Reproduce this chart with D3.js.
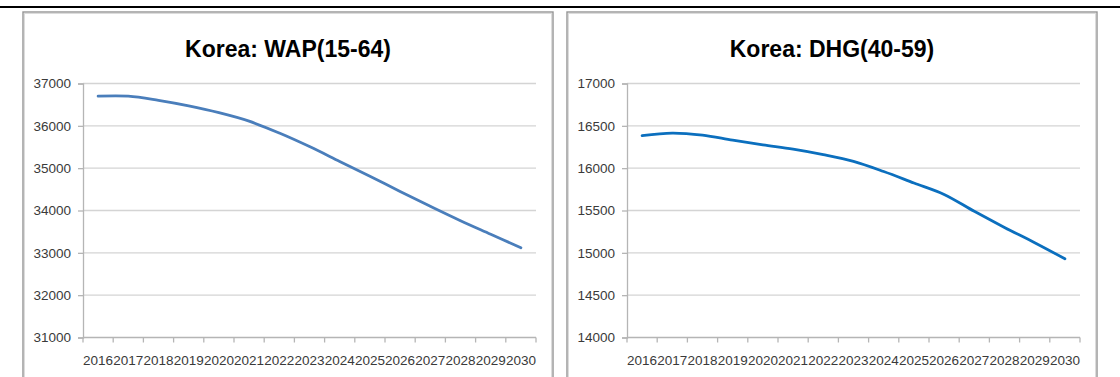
<!DOCTYPE html>
<html>
<head>
<meta charset="utf-8">
<script src="https://cdn.jsdelivr.net/npm/d3@7"></script>
<style>
  html, body { margin: 0; padding: 0; background: #fff; }
  svg { display: block; }
  .tick text { font-family: "Liberation Sans", Arial, sans-serif; }
</style>
</head>
<body>
<svg id="chart" width="1120" height="377"></svg>
<script>
// Years shared by both panels
const years = ["2016","2017","2018","2019","2020","2021","2022","2023","2024","2025","2026","2027","2028","2029","2030"];

// Working-age population (15-64), thousands
const wapValues = [36700, 36700, 36600, 36470, 36310, 36110, 35830, 35510, 35160, 34810, 34450, 34100, 33760, 33440, 33120];
const wapTicks = [31000, 32000, 33000, 34000, 35000, 36000, 37000];

// Demographic "heavy group" (40-59), thousands
const dhgValues = [16385, 16415, 16390, 16330, 16275, 16225, 16160, 16080, 15960, 15825, 15690, 15490, 15300, 15120, 14930];
const dhgTicks = [14000, 14500, 15000, 15500, 16000, 16500, 17000];

const titles = ["Korea: WAP(15-64)", "Korea: DHG(40-59)"];

const svg = d3.select("#chart");

// Rule across the top of the page
svg.append("line")
  .attr("x1", 0).attr("x2", 1120)
  .attr("y1", 7).attr("y2", 7)
  .attr("stroke", "#000").attr("stroke-width", 2);

function drawPanel(cfg) {
  const g = svg.append("g");

  // Panel frame: dark outer line with a light inner edge
  g.append("rect")
    .attr("x", cfg.box[0]).attr("y", cfg.box[1])
    .attr("width", cfg.box[2] - cfg.box[0]).attr("height", cfg.box[3] - cfg.box[1])
    .attr("fill", "#fff").attr("stroke", "#959595").attr("stroke-width", 1.4);
  g.append("rect")
    .attr("x", cfg.box[0] + 1.5).attr("y", cfg.box[1] + 1.5)
    .attr("width", cfg.box[2] - cfg.box[0] - 3).attr("height", cfg.box[3] - cfg.box[1] - 3)
    .attr("fill", "none").attr("stroke", "#dcdcdc").attr("stroke-width", 1);

  const x = d3.scaleBand().domain(years).range([cfg.plot[0], cfg.plot[1]]).paddingInner(0).paddingOuter(0);
  const y = d3.scaleLinear().domain(cfg.domain).range([cfg.plot[3], cfg.plot[2]]);

  // Horizontal gridlines
  g.append("g")
    .selectAll("line")
    .data(cfg.ticks.slice(1))
    .join("line")
    .attr("x1", cfg.plot[0]).attr("x2", cfg.plot[1])
    .attr("y1", d => y(d)).attr("y2", d => y(d))
    .attr("stroke", "#d4d4d4").attr("stroke-width", 1.3);

  // Y axis
  const yAxis = g.append("g")
    .attr("transform", `translate(${cfg.plot[0]},0)`)
    .call(d3.axisLeft(y).tickValues(cfg.ticks).tickFormat(d3.format("d")).tickSize(5).tickPadding(7));
  yAxis.select(".domain").attr("stroke", "#b5b5b5").attr("stroke-width", 1.3);
  yAxis.selectAll(".tick line").attr("stroke", "#b5b5b5").attr("stroke-width", 1.3);
  yAxis.selectAll(".tick text")
    .attr("fill", "#3a3a3a").style("font-size", "13.5px");

  // X axis with tick marks on band boundaries
  const xAxisG = g.append("g").attr("transform", `translate(0,${cfg.plot[3]})`);
  xAxisG.append("line")
    .attr("x1", cfg.plot[0]).attr("x2", cfg.plot[1])
    .attr("stroke", "#b5b5b5").attr("stroke-width", 1.3);
  const bounds = years.map(d => x(d)).concat([x(years[years.length - 1]) + x.bandwidth()]);
  xAxisG.selectAll("line.tk")
    .data(bounds)
    .join("line")
    .attr("class", "tk")
    .attr("x1", d => d).attr("x2", d => d)
    .attr("y1", 0).attr("y2", 5)
    .attr("stroke", "#b5b5b5").attr("stroke-width", 1.3);
  xAxisG.selectAll("text")
    .data(years)
    .join("text")
    .attr("x", d => x(d) + x.bandwidth() / 2)
    .attr("y", 27)
    .attr("text-anchor", "middle")
    .attr("fill", "#3a3a3a")
    .style("font-family", "\"Liberation Sans\", Arial, sans-serif")
    .style("font-size", "13.5px")
    .text(d => d);

  // Series line
  const line = d3.line()
    .x((d, i) => x(years[i]) + x.bandwidth() / 2)
    .y(d => y(d))
    .curve(d3.curveCatmullRom.alpha(0.5));
  g.append("path")
    .datum(cfg.values)
    .attr("d", line)
    .attr("fill", "none")
    .attr("stroke", cfg.color)
    .attr("stroke-width", 2.8)
    .attr("stroke-linecap", "round")
    .attr("stroke-linejoin", "round");

  // Title
  g.append("text")
    .attr("x", (cfg.box[0] + cfg.box[2]) / 2)
    .attr("y", 57)
    .attr("text-anchor", "middle")
    .attr("fill", "#000")
    .style("font-family", "\"Liberation Sans\", Arial, sans-serif")
    .style("font-weight", "bold")
    .style("font-size", "23px")
    .text(cfg.title);
}

drawPanel({
  box: [23, 12, 553, 385],
  plot: [83, 536, 83.5, 337.5],
  domain: [31000, 37000],
  ticks: wapTicks,
  values: wapValues,
  color: "#4a7ebb",
  title: titles[0]
});

drawPanel({
  box: [567, 12, 1097, 385],
  plot: [627, 1080, 83.5, 337.5],
  domain: [14000, 17000],
  ticks: dhgTicks,
  values: dhgValues,
  color: "#0b6fbe",
  title: titles[1]
});
</script>
</body>
</html>
